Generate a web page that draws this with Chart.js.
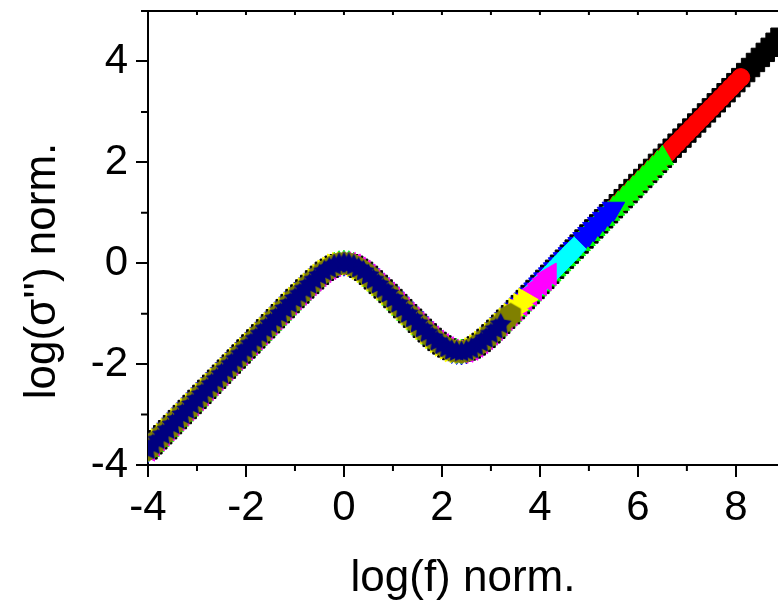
<!doctype html>
<html lang="en">
<head>
<meta charset="utf-8">
<title>log(σ'') norm. master curve</title>
<style>
  html, body { margin: 0; padding: 0; background: #fff; overflow: hidden; }
  #wrap { position: relative; width: 778px; height: 607px; }
</style>
</head>
<body>
<div id="wrap"><canvas id="myChart"></canvas></div>

<script src="https://cdn.jsdelivr.net/npm/chart.js"></script>
<script>
// master curve: log(f) norm. / log(sigma'') norm.
var logF = [-4.0, -3.9, -3.8, -3.7, -3.6, -3.5, -3.4, -3.3, -3.2, -3.1,
            -3.0, -2.9, -2.8, -2.7, -2.6, -2.5, -2.4, -2.3, -2.2, -2.1,
            -2.0, -1.9, -1.8, -1.7, -1.6, -1.5, -1.4, -1.3, -1.2, -1.1,
            -1.0, -0.9, -0.8, -0.7, -0.6, -0.5, -0.4, -0.3, -0.2, -0.1,
             0.0,  0.1,  0.2,  0.3,  0.4,  0.5,  0.6,  0.7,  0.8,  0.9,
             1.0,  1.1,  1.2,  1.3,  1.4,  1.5,  1.6,  1.7,  1.8,  1.9,
             2.0,  2.1,  2.2,  2.3,  2.4,  2.5,  2.6,  2.7,  2.8,  2.9,
             3.0,  3.1,  3.2,  3.3,  3.4,  3.5,  3.6,  3.7,  3.8,  3.9,
             4.0,  4.1,  4.2,  4.3,  4.4,  4.5,  4.6,  4.7,  4.8,  4.9,
             5.0,  5.1,  5.2,  5.3,  5.4,  5.5,  5.6,  5.7,  5.8,  5.9,
             6.0,  6.1,  6.2,  6.3,  6.4,  6.5,  6.6,  6.7,  6.8,  6.9,
             7.0,  7.1,  7.2,  7.3,  7.4,  7.5,  7.6,  7.7,  7.8,  7.9,
             8.0,  8.1,  8.2,  8.3,  8.4,  8.5,  8.6,  8.7,  8.8,  8.9];
var logSigma = [-3.70, -3.60, -3.50, -3.40, -3.30, -3.20, -3.10, -3.00, -2.90, -2.80,
                -2.70, -2.60, -2.50, -2.40, -2.30, -2.20, -2.10, -2.00, -1.90, -1.80,
                -1.70, -1.60, -1.50, -1.40, -1.30, -1.20, -1.10, -1.00, -0.90, -0.80,
                -0.70, -0.61, -0.51, -0.42, -0.33, -0.24, -0.16, -0.10, -0.04, -0.01,
                 0.00, -0.01, -0.04, -0.10, -0.16, -0.24, -0.33, -0.42, -0.51, -0.60,
                -0.70, -0.80, -0.90, -1.00, -1.09, -1.19, -1.29, -1.38, -1.47, -1.55,
                -1.62, -1.68, -1.73, -1.75, -1.76, -1.74, -1.70, -1.64, -1.57, -1.49,
                -1.40, -1.31, -1.21, -1.11, -1.02, -0.92, -0.82, -0.72, -0.62, -0.52,
                -0.42, -0.32, -0.22, -0.12, -0.02,  0.08,  0.18,  0.28,  0.38,  0.48,
                 0.58,  0.68,  0.78,  0.88,  0.98,  1.08,  1.18,  1.28,  1.38,  1.48,
                 1.58,  1.68,  1.78,  1.88,  1.98,  2.08,  2.18,  2.28,  2.38,  2.48,
                 2.58,  2.68,  2.78,  2.88,  2.98,  3.08,  3.18,  3.28,  3.38,  3.48,
                 3.58,  3.68,  3.78,  3.88,  3.98,  4.08,  4.18,  4.28,  4.38,  4.48];

// highest log(f) reached by each measured curve (drawn bottom to top)
var seriesEnd = [8.9, 8.1, 6.5, 5.5, 4.7, 4.2, 3.7, 3.4, 3.2];

var xTicks = [-4, -2, 0, 2, 4, 6, 8];
var yTicks = [-4, -2, 0, 2, 4];
var xMinor = [-3, -1, 1, 3, 5, 7];
var yMinor = [-3, -1, 1, 3];

var FONT = '"Liberation Sans", Arial, sans-serif';

// Origin style symbols that Chart.js does not have
function makeShape(n, color, r, inner) {
    var c = document.createElement('canvas');
    c.width = c.height = Math.ceil(2 * r + 2);
    var g = c.getContext('2d');
    var m = inner ? n * 2 : n;
    g.fillStyle = color;
    g.beginPath();
    for (var i = 0; i < m; i++) {
        var rr = (inner && i % 2) ? inner : r;
        var a = -Math.PI / 2 + i * 2 * Math.PI / m;
        var px = c.width / 2 + rr * Math.cos(a), py = c.height / 2 + rr * Math.sin(a);
        if (i) g.lineTo(px, py); else g.moveTo(px, py);
    }
    g.closePath();
    g.fill();
    return c;
}

var colors = ['#000000', '#ff0000', '#00ff00', '#0000ff', '#00ffff', '#ff00ff', '#ffff00', '#808000', '#000080'];
var symbols = ['rect', 'circle', 'triangle', 'triangle', 'rectRot', 'triangle', 'triangle',
               makeShape(6, '#808000', 12), makeShape(5, '#000080', 11.5, 6)];
var rotations = [0, 0, 0, 180, 0, 270, 90, 0, 0];
var radii = [13, 9, 13, 13, 12, 13, 13, 12, 12];

var datasets = seriesEnd.map(function (end, i) {
    var pts = [];
    for (var k = 0; k < logF.length; k++) {
        if (logF[k] <= end + 1e-9) pts.push({ x: logF[k], y: logSigma[k] });
    }
    return {
        label: 'curve ' + (i + 1),
        data: pts,
        showLine: false,
        pointStyle: symbols[i],
        pointRadius: radii[i],
        pointRotation: rotations[i],
        pointBackgroundColor: colors[i],
        pointBorderColor: colors[i],
        pointBorderWidth: 1,
        order: seriesEnd.length - i,
        clip: 0
    };
});

// minor ticks, top frame line and the y title
var frame = {
    id: 'frame',
    afterDraw: function (chart) {
        var ctx = chart.ctx, a = chart.chartArea, xs = chart.scales.x, ys = chart.scales.y;
        ctx.save();
        ctx.strokeStyle = '#000';
        ctx.lineWidth = 2;
        ctx.beginPath();
        ctx.moveTo(a.left - 7, a.top);
        ctx.lineTo(a.right, a.top);
        xMinor.forEach(function (v) {
            var px = xs.getPixelForValue(v);
            ctx.moveTo(px, a.bottom);
            ctx.lineTo(px, a.bottom + 6);
        });
        for (var v = -3; v <= 8; v++) {
            var px = xs.getPixelForValue(v);
            ctx.moveTo(px, a.top);
            ctx.lineTo(px, a.top + 4);
        }
        yMinor.forEach(function (v) {
            var py = ys.getPixelForValue(v);
            ctx.moveTo(a.left - 7, py);
            ctx.lineTo(a.left, py);
        });
        ctx.stroke();

        ctx.translate(55, 271);
        ctx.rotate(-Math.PI / 2);
        ctx.font = '44px ' + FONT;
        ctx.fillStyle = '#000';
        ctx.textAlign = 'center';
        ctx.textBaseline = 'alphabetic';
        ctx.fillText("log(σ'') norm.", 0, 0);
        ctx.restore();
    }
};

function noPad(s) {
    s.paddingTop = 0;
    s.paddingBottom = 0;
    s.paddingLeft = 0;
    s.paddingRight = 0;
}

const ctx = document.getElementById('myChart');
new Chart(ctx, {
    type: 'scatter',
    data: { datasets: datasets },
    plugins: [frame],
    options: {
        responsive: true,
        maintainAspectRatio: false,
        animation: false,
        layout: { autoPadding: false, padding: { top: 11, right: 0, bottom: 0, left: 0 } },
        plugins: { legend: { display: false }, tooltip: { enabled: false } },
        scales: {
            x: {
                type: 'linear',
                position: 'bottom',
                min: -4,
                max: 8.86,
                afterBuildTicks: function (s) { s.ticks = xTicks.map(function (v) { return { value: v }; }); },
                afterFit: function (s) { s.height = 142; noPad(s); },
                ticks: { color: '#000', padding: 6, font: { family: FONT, size: 42 } },
                grid: { drawOnChartArea: false, drawTicks: true, tickLength: 12, color: '#000', lineWidth: 2 },
                border: { display: true, color: '#000', width: 2 },
                title: { display: true, text: 'log(f) norm.', color: '#000', padding: { top: 0, bottom: 2 },
                         font: { family: FONT, size: 44 } }
            },
            y: {
                type: 'linear',
                min: -4,
                max: 5,
                afterBuildTicks: function (s) { s.ticks = yTicks.map(function (v) { return { value: v }; }); },
                afterFit: function (s) { s.width = 148; noPad(s); },
                ticks: { color: '#000', padding: 8, font: { family: FONT, size: 42 } },
                grid: { drawOnChartArea: false, drawTicks: true, tickLength: 12, color: '#000', lineWidth: 2 },
                border: { display: true, color: '#000', width: 2 }
            }
        }
    }
});
</script>
</body>
</html>
